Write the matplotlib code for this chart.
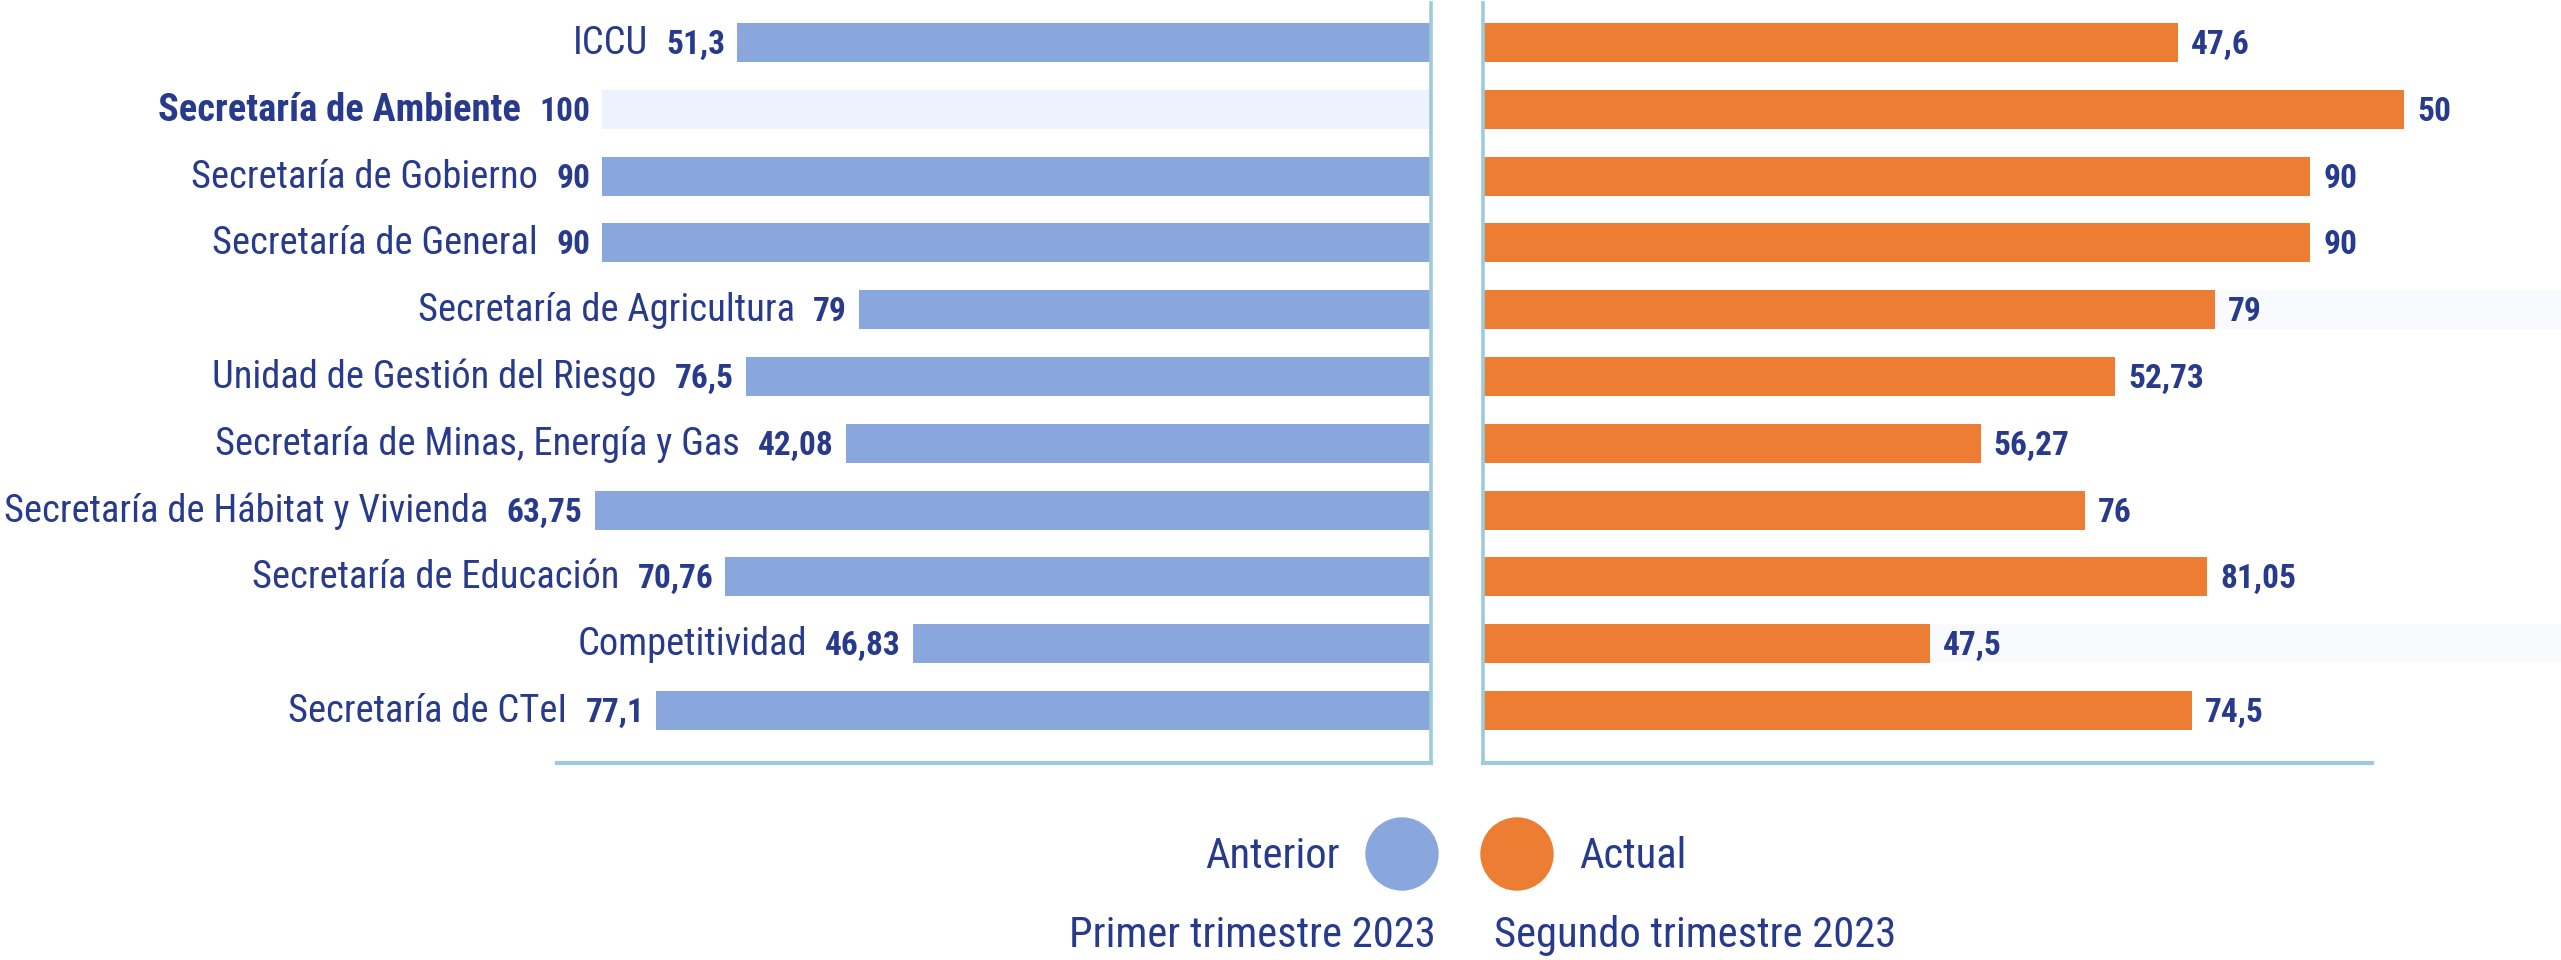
import matplotlib
matplotlib.use("Agg")
import matplotlib.pyplot as plt
import numpy as np
from matplotlib import font_manager
from matplotlib.patches import Ellipse

# --- data -----------------------------------------------------------------
categories = [
    "ICCU",
    "Secretaría de Ambiente",
    "Secretaría de Gobierno",
    "Secretaría de General",
    "Secretaría de Agricultura",
    "Unidad de Gestión del Riesgo",
    "Secretaría de Minas, Energía y Gas",
    "Secretaría de Hábitat y Vivienda",
    "Secretaría de Educación",
    "Competitividad",
    "Secretaría de CTeI",
]
prev_labels = ["51,3", "100", "90", "90", "79", "76,5", "42,08", "63,75", "70,76", "46,83", "77,1"]
curr_labels = ["47,6", "50", "90", "90", "79", "52,73", "56,27", "76", "81,05", "47,5", "74,5"]
# bar lengths as drawn in the source graphic (same scale on both sides, 90 -> 90)
prev_lengths = [75.4, 90.1, 90.1, 90.1, 62.2, 74.5, 63.6, 90.9, 76.7, 56.3, 84.2]
curr_lengths = [75.5, 100.1, 89.9, 89.9, 79.6, 68.7, 54.1, 65.4, 78.7, 48.6, 77.1]
highlight = "Secretaría de Ambiente"
faint_rows = ["Secretaría de Agricultura", "Competitividad"]
legend_names = ["Anterior", "Actual"]
legend_periods = ["Primer trimestre 2023", "Segundo trimestre 2023"]

# --- style ----------------------------------------------------------------
BLUE = "#8AA7DD"
PALE = "#EDF2FC"
ORANGE = "#ED7D32"
NAVY = "#283A8C"
LINE = "#9DCBDB"
FAINT = "#F8FAFD"

available = {f.name for f in font_manager.fontManager.ttflist}
FAMILY = next(f for f in ["Liberation Sans Narrow", "Roboto Condensed", "DejaVu Sans"]
              if f in available)
plt.rcParams["font.family"] = [FAMILY, "DejaVu Sans"]
plt.rcParams["font.stretch"] = "condensed"

W, H = 2561, 960
fig = plt.figure(figsize=(W / 100, H / 100), dpi=100)
renderer = fig.canvas.get_renderer()


def px_box(left, top, right, bottom):
    return [left / W, 1 - bottom / H, (right - left) / W, (bottom - top) / H]


def text_width(s, size, weight="normal"):
    t = fig.text(0, 0, s, fontsize=size, fontweight=weight)
    w = t.get_window_extent(renderer).width
    t.remove()
    return w


cat_size = min(36, 10 * 480 / text_width("Secretaría de Hábitat y Vivienda", 10))
val_size = min(27, 10 * 76 / text_width("63,75", 10, "bold"))
leg_size = min(36, 10 * 364 / text_width(legend_periods[0], 10))

scale = 9.2  # pixels per unit
row_step = 66.8
ax_l = fig.add_axes(px_box(0, 3, 1431, 763))
ax_r = fig.add_axes(px_box(1483, 3, W, 763))
ax_l.set_xlim(1431 / scale, 0)
ax_r.set_xlim(0, (W - 1483) / scale)

rows = np.arange(len(categories))
bar_h = 39 / row_step
for ax in (ax_l, ax_r):
    ax.set_ylim(10 + (763 - 710.5) / row_step, -(42.5 - 3) / row_step)
    ax.set_xticks([])
    ax.set_yticks([])
    ax.patch.set_alpha(0)
    for s in ax.spines.values():
        s.set_visible(False)
        s.set_color(LINE)

ax_l.spines["right"].set_visible(True)
ax_l.spines["right"].set_linewidth(2.6)
ax_l.spines["bottom"].set_visible(True)
ax_l.spines["bottom"].set_linewidth(3)
ax_l.spines["bottom"].set_bounds(0, (1431 - 557) / scale)
ax_r.spines["left"].set_visible(True)
ax_r.spines["left"].set_linewidth(2.6)
ax_r.spines["bottom"].set_visible(True)
ax_r.spines["bottom"].set_linewidth(3)
ax_r.spines["bottom"].set_bounds(0, (2372 - 1483) / scale)

left_colors = [PALE if c == highlight else BLUE for c in categories]
ax_l.barh(rows, prev_lengths, height=bar_h, color=left_colors, zorder=2)
for i, c in enumerate(categories):
    if c in faint_rows:
        ax_r.barh(i, ax_r.get_xlim()[1], height=bar_h, color=FAINT, zorder=1)
ax_r.barh(rows, curr_lengths, height=bar_h, color=ORANGE, zorder=2)

pt = 0.72  # points per pixel at 100 dpi
base = -11.5 * pt
for i, cat in enumerate(categories):
    v = ax_l.annotate(prev_labels[i], xy=(prev_lengths[i], i), xytext=(-12 * pt, base),
                      textcoords="offset points", ha="right", va="baseline",
                      fontsize=val_size, fontweight="bold", color=NAVY)
    vw = v.get_window_extent(renderer).width
    bold = cat == highlight
    ax_l.annotate(cat, xy=(prev_lengths[i], i), xytext=(-(12 + vw + 18) * pt, base),
                  textcoords="offset points", ha="right", va="baseline",
                  fontsize=cat_size, fontweight="bold" if bold else "normal", color=NAVY)
    ax_r.annotate(curr_labels[i], xy=(curr_lengths[i], i), xytext=(13 * pt, base),
                  textcoords="offset points", ha="left", va="baseline",
                  fontsize=val_size, fontweight="bold", color=NAVY)

# legend
for cx, col in [(1402, BLUE), (1517, ORANGE)]:
    fig.add_artist(Ellipse((cx / W, 1 - 854 / H), 72 / W, 72 / H,
                           transform=fig.transFigure, color=col))
fig.text(1340 / W, 1 - 868 / H, legend_names[0], ha="right", va="baseline",
         fontsize=leg_size, color=NAVY)
fig.text(1579 / W, 1 - 868 / H, legend_names[1], ha="left", va="baseline",
         fontsize=leg_size, color=NAVY)
fig.text(1436 / W, 1 - 947 / H, legend_periods[0], ha="right", va="baseline",
         fontsize=leg_size, color=NAVY)
fig.text(1494 / W, 1 - 947 / H, legend_periods[1], ha="left", va="baseline",
         fontsize=leg_size, color=NAVY)

fig.savefig("out.png", dpi=100)
